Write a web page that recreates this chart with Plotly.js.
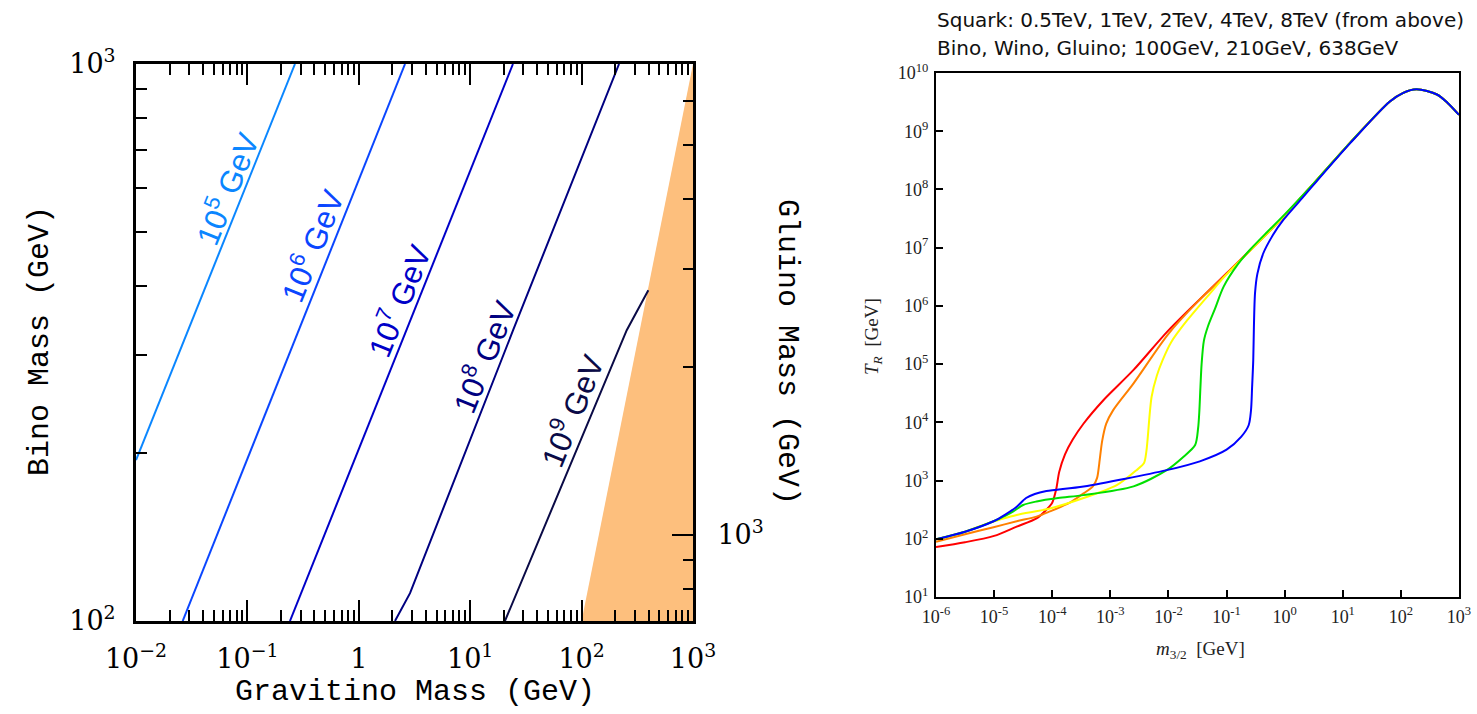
<!DOCTYPE html>
<html><head><meta charset="utf-8">
<script src="https://cdn.plot.ly/plotly-3.0.1.min.js"></script>
<style>html,body{margin:0;padding:0;background:#fff;} #chart{width:1477px;height:714px;}</style>
</head><body><div id="chart"></div>
<script>
// ---------- Left panel data: T_R contours in (gravitino mass, bino mass) plane ----------
const contourNames  = ['10<sup>5</sup> GeV','10<sup>6</sup> GeV','10<sup>7</sup> GeV','10<sup>8</sup> GeV','10<sup>9</sup> GeV'];
const contourColors = ['#0a86ff','#0a46ff','#0000c8','#000080','#0a0a46'];
const tr5_m32 = [0.01, 0.2673];           const tr5_mb = [194.5, 1000];
const tr6_m32 = [0.02624, 2.600];         const tr6_mb = [100, 1000];
const tr7_m32 = [0.2410, 24.2];           const tr7_mb = [100, 1000];
const tr8_m32 = [2.113, 2.884, 24.27, 216.8];          const tr8_mb = [100, 112.2, 332.7, 1000];
const tr9_m32 = [20.51, 58.6, 167.9, 254.1, 397.2];    const tr9_mb = [100, 164.9, 271, 332.7, 392.6];
// excluded region (gravitino heavier than bino)
const excl_m32 = [100, 1000, 1000];       const excl_mb = [100, 1000, 100];

const gravTickVals = [0.01, 0.1, 1, 10, 100, 1000];
const gravTickText = ['10<sup>−2</sup>','10<sup>−1</sup>','1','10<sup>1</sup>','10<sup>2</sup>','10<sup>3</sup>'];
const gravMinor = [0.02,0.03,0.04,0.05,0.06,0.07,0.08,0.09,0.2,0.3,0.4,0.5,0.6,0.7,0.8,0.9,2,3,4,5,6,7,8,9,20,30,40,50,60,70,80,90,200,300,400,500,600,700,800,900];
const binoTickVals = [100, 1000];
const binoTickText = ['10<sup>2</sup>','10<sup>3</sup>'];
const binoMinor = [200,300,400,500,600,700,800,900];
const gluinoTickVals = [1000];
const gluinoTickText = ['10<sup>3</sup>'];
const gluinoMinor = [800,900,2000,3000,4000,5000,6000];
const gluinoRange = [700, 7000];

// ---------- Right panel data: T_R vs m_3/2 ----------
const squarkNames  = ['0.5TeV','1TeV','2TeV','4TeV','8TeV'];
const squarkColors = ['#ff0000','#ff8000','#ffff00','#00e000','#0000ff'];
const red_x = [1e-6,3.16e-6,1e-5,2.45e-5,5.37e-5,7.94e-5,1e-4,1.17e-4,1.32e-4,1.66e-4,2.24e-4,3.47e-4,7.59e-4,2.51e-3,1e-2,0.1,0.955,3.55,13.3,64.6,110,186,417,631,1000];
const red_y = [72.4,87.1,112,162,224,316,417,708,1410,2820,5010,9550,24000,79400,3.8e5,3.63e6,3.39e7,1.45e8,6.31e8,3.24e9,4.57e9,5.25e9,4.27e9,3.09e9,1.91e9];
const orange_x = [1e-6,3.16e-6,9.77e-6,2.45e-5,5.37e-5,9.12e-5,2e-4,3.47e-4,5.01e-4,5.9e-4,6.46e-4,7.24e-4,8.5e-4,1.12e-3,2.51e-3,1e-2,3.16e-2,0.1,0.955,3.55,13.3,64.6,110,186,417,631,1000];
const orange_y = [89.1,120,158,200,240,295,417,603,794,1100,2000,4800,9500,16200,46800,3.31e5,1.17e6,3.55e6,3.39e7,1.45e8,6.31e8,3.24e9,4.57e9,5.25e9,4.27e9,3.09e9,1.91e9];
const yellow_x = [1e-6,3.16e-6,7.94e-6,1.26e-5,2.45e-5,9.12e-5,3.47e-4,1.29e-3,2.82e-3,3.8e-3,4.17e-3,4.37e-3,5.13e-3,6.31e-3,7.94e-3,1.12e-2,2.09e-2,5.25e-2,0.1,0.955,3.55,13.3,64.6,110,186,417,631,1000];
const yellow_y = [97.7,132,186,214,257,331,501,832,1510,2000,3160,5010,27500,63100,1.17e5,2.4e5,5.62e5,1.66e6,3.47e6,3.39e7,1.45e8,6.31e8,3.24e9,4.57e9,5.25e9,4.27e9,3.09e9,1.91e9];
const green_x = [1e-6,3.16e-6,9.77e-6,1.58e-5,2.14e-5,3.16e-5,5.37e-5,1.26e-4,3.47e-4,2.51e-3,9.33e-3,1.82e-2,2.88e-2,3.24e-2,3.39e-2,3.55e-2,3.72e-2,4.07e-2,4.79e-2,6.31e-2,8.91e-2,0.158,0.251,0.501,0.955,3.55,13.3,64.6,110,186,417,631,1000];
const green_y = [97.7,132,200,251,295,380,437,501,562,794,1510,2570,4070,7940,14500,39800,1e5,2.51e5,4.47e5,8.91e5,2.14e6,5.25e6,9.12e6,1.86e7,3.55e7,1.45e8,6.31e8,3.24e9,4.57e9,5.25e9,4.27e9,3.09e9,1.91e9];
const blue_x = [1e-6,3.16e-6,9.77e-6,1.58e-5,2.45e-5,3.55e-5,5.01e-5,7.94e-5,3.47e-4,9.33e-3,3.47e-2,0.1,0.178,0.24,0.263,0.275,0.288,0.295,0.309,0.339,0.427,0.631,0.955,2,3.55,13.3,64.6,110,186,417,631,1000];
const blue_y = [97.7,132,200,263,355,501,589,661,794,1510,2140,3390,5620,8910,15800,39800,1.17e5,3.98e5,1.66e6,3.55e6,7.94e6,1.66e7,3.02e7,7.08e7,1.38e8,6.17e8,3.24e9,4.57e9,5.25e9,4.27e9,3.09e9,1.91e9];

const m32TickVals = [1e-6,1e-5,1e-4,1e-3,1e-2,1e-1,1,10,100,1000];
const m32TickText = ['10<sup>-6</sup>','10<sup>-5</sup>','10<sup>-4</sup>','10<sup>-3</sup>','10<sup>-2</sup>','10<sup>-1</sup>','10<sup>0</sup>','10<sup>1</sup>','10<sup>2</sup>','10<sup>3</sup>'];
const trTickVals = [1e1,1e2,1e3,1e4,1e5,1e6,1e7,1e8,1e9,1e10];
const trTickText = ['10<sup>1</sup>','10<sup>2</sup>','10<sup>3</sup>','10<sup>4</sup>','10<sup>5</sup>','10<sup>6</sup>','10<sup>7</sup>','10<sup>8</sup>','10<sup>9</sup>','10<sup>10</sup>'];
const titleLines = ['Squark: 0.5TeV, 1TeV, 2TeV, 4TeV, 8TeV (from above)', 'Bino, Wino, Gluino; 100GeV, 210GeV, 638GeV'];

// ---------- Build ----------
const W = 1477, H = 714;
const PX = v => v / W, PY = v => 1 - v / H;

const traces = [];
traces.push({type:'scatter', mode:'lines', x:excl_m32, y:excl_mb, fill:'toself', fillcolor:'#fdbf7d', line:{width:0, color:'#fdbf7d'}, xaxis:'x', yaxis:'y', hoverinfo:'skip'});
// carrier for the gluino-mass scale (no marks)
traces.push({type:'scatter', mode:'lines', x:[], y:[], xaxis:'x', yaxis:'y2', hoverinfo:'skip', showlegend:false});
const cx = [tr5_m32,tr6_m32,tr7_m32,tr8_m32,tr9_m32];
const cy = [tr5_mb,tr6_mb,tr7_mb,tr8_mb,tr9_mb];
for (let i = 0; i < 5; i++) {
  traces.push({type:'scatter', mode:'lines', x:cx[i], y:cy[i], name:contourNames[i], line:{color:contourColors[i], width:2}, xaxis:'x', yaxis:'y'});
}
const sx = [red_x, orange_x, yellow_x, green_x, blue_x];
const sy = [red_y, orange_y, yellow_y, green_y, blue_y];
for (let i = 0; i < 5; i++) {
  traces.push({type:'scatter', mode:'lines', x:sx[i], y:sy[i], name:squarkNames[i], line:{color:squarkColors[i], width:2, shape:'spline', smoothing:0.8}, xaxis:'x3', yaxis:'y3'});
}

const labelPos = [[226,188],[311,245],[398,300],[483,356],[571,410]];
const annotations = [];
for (let i = 0; i < 5; i++) {
  annotations.push({xref:'paper', yref:'paper', x:PX(labelPos[i][0]), y:PY(labelPos[i][1]), xanchor:'center', yanchor:'middle', text:contourNames[i], showarrow:false, textangle:-68, font:{family:'Liberation Sans', size:31, color:contourColors[i]}});
}
const monoFont = {family:'Liberation Mono', size:30, color:'#000'};
annotations.push({xref:'paper', yref:'paper', x:PX(415), y:PY(692), xanchor:'center', yanchor:'middle', text:'Gravitino Mass (GeV)', showarrow:false, font:monoFont});
annotations.push({xref:'paper', yref:'paper', x:PX(40), y:PY(341), xanchor:'center', yanchor:'middle', text:'Bino Mass (GeV)', showarrow:false, textangle:-90, font:monoFont});
annotations.push({xref:'paper', yref:'paper', x:PX(787), y:PY(352), xanchor:'center', yanchor:'middle', text:'Gluino Mass (GeV)', showarrow:false, textangle:90, font:monoFont});
const titleFont = {family:'DejaVu Sans', size:20, color:'#111'};
annotations.push({xref:'paper', yref:'paper', x:PX(935), y:PY(20), xanchor:'left', yanchor:'middle', text:titleLines[0], showarrow:false, font:titleFont});
annotations.push({xref:'paper', yref:'paper', x:PX(935), y:PY(48), xanchor:'left', yanchor:'middle', text:titleLines[1], showarrow:false, font:titleFont});
const serifFont = {family:'Liberation Serif', size:19, color:'#222'};
annotations.push({xref:'paper', yref:'paper', x:PX(1200), y:PY(650), xanchor:'center', yanchor:'middle', text:'<i>m</i><sub>3/2</sub>  [GeV]', showarrow:false, font:serifFont});
annotations.push({xref:'paper', yref:'paper', x:PX(873), y:PY(337), xanchor:'center', yanchor:'middle', text:'<i>T</i><sub><i>R</i></sub>  [GeV]', showarrow:false, textangle:-90, font:serifFont});

const leftTick = {family:'DejaVu Serif', size:27, color:'#000'};
const rightTick = {family:'Liberation Serif', size:18, color:'#222'};

const layout = {
  width:W, height:H, margin:{l:0,r:0,t:0,b:0}, paper_bgcolor:'#fff', plot_bgcolor:'rgba(0,0,0,0)', showlegend:false,
  xaxis:{domain:[PX(136),PX(693)], anchor:'y', type:'log', range:[-2,3], showgrid:false, zeroline:false,
    showline:true, linewidth:3, linecolor:'#000', mirror:'ticks', ticks:'inside', ticklen:21, tickwidth:2, tickcolor:'#000',
    tickmode:'array', tickvals:gravTickVals, ticktext:gravTickText, tickfont:leftTick, ticklabelstandoff:12,
    minor:{tickmode:'array', tickvals:gravMinor, ticks:'inside', ticklen:11, tickwidth:2, tickcolor:'#000', showgrid:false}},
  yaxis:{domain:[PY(621),PY(64)], anchor:'x', type:'log', range:[2,3], showgrid:false, zeroline:false,
    showline:true, linewidth:3, linecolor:'#000', ticks:'inside', ticklen:21, tickwidth:2, tickcolor:'#000',
    tickmode:'array', tickvals:binoTickVals, ticktext:binoTickText, tickfont:leftTick, ticklabelstandoff:12,
    minor:{tickmode:'array', tickvals:binoMinor, ticks:'inside', ticklen:11, tickwidth:2, tickcolor:'#000', showgrid:false}},
  yaxis2:{overlaying:'y', anchor:'x', side:'right', type:'log', range:[Math.log10(gluinoRange[0]), Math.log10(gluinoRange[1])], autorange:false, showgrid:false, zeroline:false,
    showline:true, linewidth:3, linecolor:'#000', ticks:'inside', ticklen:21, tickwidth:2, tickcolor:'#000',
    tickmode:'array', tickvals:gluinoTickVals, ticktext:gluinoTickText, tickfont:leftTick, ticklabelstandoff:16,
    minor:{tickmode:'array', tickvals:gluinoMinor, ticks:'inside', ticklen:10, tickwidth:2, tickcolor:'#000', showgrid:false}},
  xaxis3:{domain:[PX(936),PX(1459)], anchor:'y3', type:'log', range:[-6,3], showgrid:false, zeroline:false,
    showline:true, linewidth:2, linecolor:'#000', mirror:true, ticks:'inside', ticklen:7, tickwidth:2, tickcolor:'#000',
    tickmode:'array', tickvals:m32TickVals, ticktext:m32TickText, tickfont:rightTick, ticklabelstandoff:2},
  yaxis3:{domain:[PY(597),PY(73)], anchor:'x3', type:'log', range:[1,10], showgrid:false, zeroline:false,
    showline:true, linewidth:2, linecolor:'#000', mirror:true, ticks:'inside', ticklen:7, tickwidth:2, tickcolor:'#000',
    tickmode:'array', tickvals:trTickVals, ticktext:trTickText, tickfont:rightTick, ticklabelstandoff:2},
  annotations:annotations
};
Plotly.newPlot('chart', traces, layout, {displayModeBar:false, staticPlot:true});
</script></body></html>
